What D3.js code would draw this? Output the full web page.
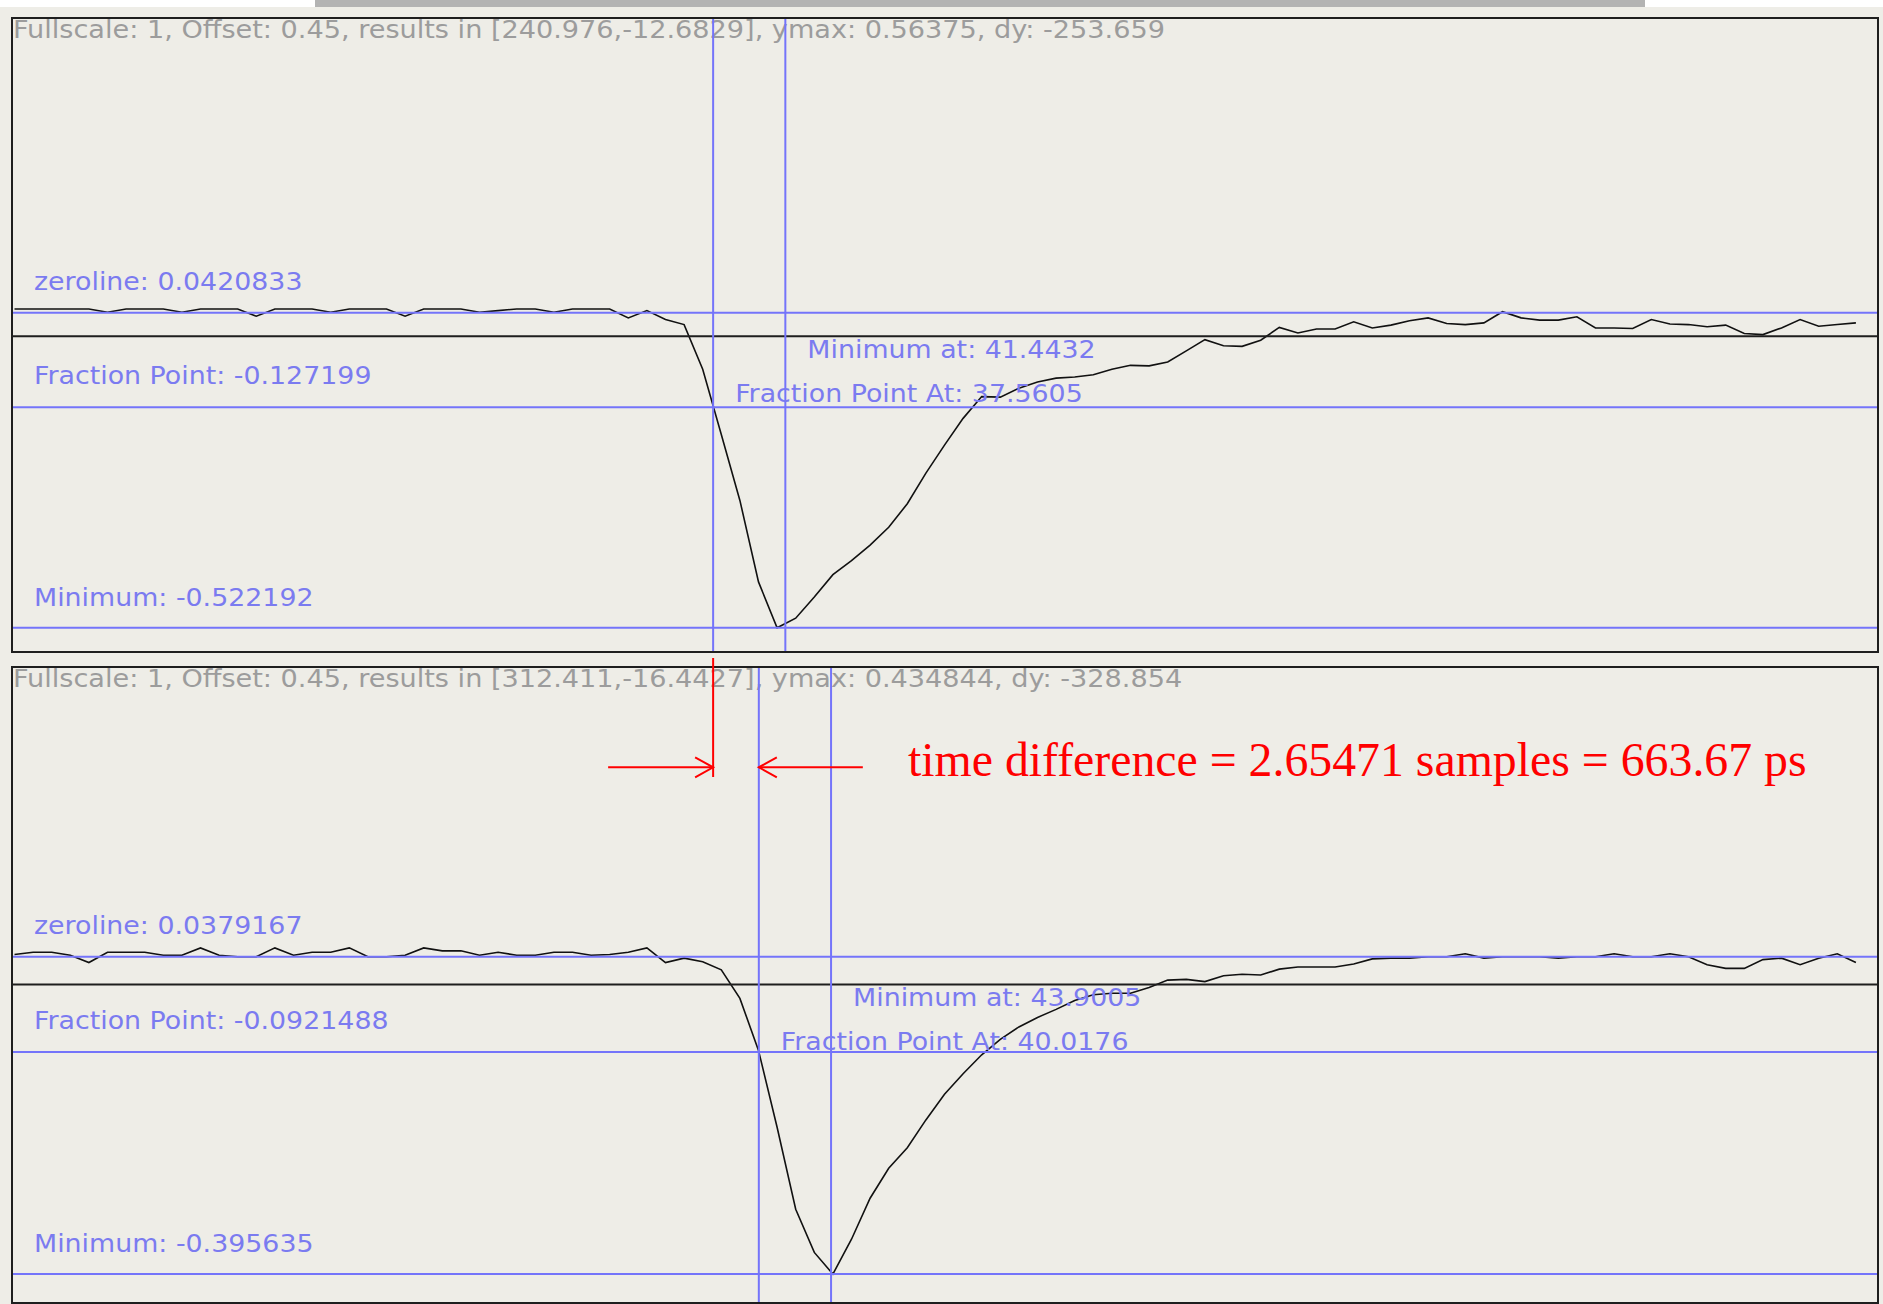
<!DOCTYPE html>
<html>
<head>
<meta charset="utf-8">
<script src="https://cdn.jsdelivr.net/npm/d3@7"></script>
<style>
  body { margin: 0; background: #eeede7; overflow: hidden; }
  svg { display: block; }
</style>
</head>
<body>
<svg id="scope"></svg>
<script>
// samples 0..99 of the two pulses (volts)
const topTrace = [
  0.049, 0.049, 0.049, 0.049, 0.049, 0.043, 0.049, 0.049, 0.049, 0.043,
  0.049, 0.049, 0.049, 0.036, 0.049, 0.049, 0.049, 0.043, 0.049, 0.049,
  0.049, 0.036, 0.049, 0.049, 0.049, 0.043, 0.046, 0.049, 0.049, 0.043,
  0.049, 0.049, 0.049, 0.033, 0.046, 0.030, 0.021, -0.059, -0.176, -0.294,
  -0.440, -0.522192, -0.505, -0.467, -0.427, -0.402, -0.374, -0.342, -0.300, -0.245,
  -0.195, -0.147, -0.108, -0.109, -0.093, -0.082, -0.075, -0.073, -0.069, -0.059,
  -0.052, -0.053, -0.046, -0.026, -0.006, -0.017, -0.018, -0.007, 0.016, 0.006,
  0.013, 0.013, 0.026, 0.015, 0.020, 0.028, 0.033, 0.023, 0.021, 0.024,
  0.044, 0.033, 0.029, 0.029, 0.035, 0.015, 0.015, 0.014, 0.030, 0.022,
  0.021, 0.017, 0.020, 0.005, 0.003, 0.015, 0.030, 0.018, 0.021, 0.024
];
const bottomTrace = [
  0.041, 0.044, 0.044, 0.040, 0.030, 0.044, 0.044, 0.044, 0.040, 0.040,
  0.050, 0.040, 0.0379, 0.0379, 0.050, 0.040, 0.044, 0.044, 0.050, 0.0379,
  0.0379, 0.040, 0.050, 0.046, 0.046, 0.040, 0.044, 0.040, 0.040, 0.044,
  0.044, 0.040, 0.041, 0.044, 0.050, 0.030, 0.036, 0.031, 0.020, -0.019,
  -0.090, -0.195, -0.307, -0.366, -0.395635, -0.348, -0.292, -0.251, -0.223, -0.185,
  -0.150, -0.122, -0.096, -0.075, -0.058, -0.045, -0.034, -0.022, -0.014, -0.012,
  -0.012, -0.004, 0.006, 0.007, 0.004, 0.012, 0.014, 0.013, 0.021, 0.024,
  0.024, 0.024, 0.028, 0.035, 0.036, 0.036, 0.0379, 0.0379, 0.042, 0.036,
  0.0379, 0.0379, 0.0379, 0.036, 0.0379, 0.0379, 0.042, 0.0379, 0.0379, 0.042,
  0.0379, 0.027, 0.022, 0.022, 0.034, 0.036, 0.027, 0.036, 0.042, 0.030
];

const traces = [topTrace, bottomTrace];
const fullscale = [1, 1];
const offset = [0.45, 0.45];
const results = ["[240.976,-12.6829]", "[312.411,-16.4427]"];
const yMax = [0.56375, 0.434844];
const dy = [-253.659, -328.854];
const zeroLine = [0.0420833, 0.0379167];
const fractionPoint = [-0.127199, -0.0921488];
const minimum = [-0.522192, -0.395635];
const fractionAt = [37.5605, 40.0176];
const minimumAt = [41.4432, 43.9005];
const timeDiffSamples = 2.65471;
const timeDiffPs = 663.67;

let width = 1883;
let height = 1304;

// panel frames and the inner plotting band of each one
let panels = [
  {top: 18, bottom: 652, plotTop: 21.6, plotBottom: 651},
  {top: 667, bottom: 1303, plotTop: 666.2, plotBottom: 1302.8}
];
let frame = {left: 12, right: 1878};

let blue = '#7474fa';
let labelBlue = '#7b7bf0';

let svg = d3.select('#scope')
  .attr('width', width)
  .attr('height', height);

svg.append('rect')
  .attr('width', width).attr('height', height)
  .attr('fill', '#eeede7');
svg.append('rect')
  .attr('width', width).attr('height', 7)
  .attr('fill', '#ffffff');
svg.append('rect')
  .attr('x', 315).attr('width', 1330).attr('height', 7)
  .attr('fill', '#b3b3b3');

let xScale = d3.scaleLinear()
  .domain([0, 100])
  .range([14.5, 1874.5]);

function label(g, txt, x, y, color, sx = 1.095) {
  g.append('text')
    .attr('transform', `translate(${x},${y}) scale(${sx},1)`)
    .attr('font-family', 'DejaVu Sans, Verdana, sans-serif')
    .attr('font-size', 24.5)
    .attr('fill', color)
    .text(txt);
}

panels.forEach((p, k) => {
  let yScale = d3.scaleLinear()
    .domain([-yMax[k], yMax[k]])
    .range([p.plotBottom, p.plotTop]);

  let g = svg.append('g');
  g.append('clipPath').attr('id', 'clip' + k)
    .append('rect')
    .attr('x', frame.left).attr('y', p.top)
    .attr('width', frame.right - frame.left)
    .attr('height', p.bottom - p.top);
  let inner = g.append('g').attr('clip-path', `url(#clip${k})`);

  label(inner,
    `Fullscale: ${fullscale[k]}, Offset: ${offset[k]}, results in ${results[k]}, ymax: ${yMax[k]}, dy: ${dy[k]}`,
    frame.left + 1, p.top + 20, '#9c9c9c', 1.107);

  let line = d3.line()
    .x((d, i) => xScale(i))
    .y(d => yScale(d));
  inner.append('path')
    .datum(traces[k])
    .attr('d', line)
    .attr('fill', 'none')
    .attr('stroke', '#111')
    .attr('stroke-width', 1.6);

  // zero of the trace
  inner.append('line')
    .attr('x1', frame.left).attr('x2', frame.right)
    .attr('y1', yScale(0)).attr('y2', yScale(0))
    .attr('stroke', '#1e1e1e').attr('stroke-width', 2);

  [zeroLine[k], fractionPoint[k], minimum[k]].forEach(v => {
    inner.append('line')
      .attr('x1', frame.left).attr('x2', frame.right)
      .attr('y1', yScale(v)).attr('y2', yScale(v))
      .attr('stroke', blue).attr('stroke-width', 2);
  });
  [fractionAt[k], minimumAt[k]].forEach(v => {
    inner.append('line')
      .attr('x1', xScale(v)).attr('x2', xScale(v))
      .attr('y1', p.top).attr('y2', p.bottom)
      .attr('stroke', blue).attr('stroke-width', 2);
  });

  label(inner, `zeroline: ${zeroLine[k]}`, 34, yScale(zeroLine[k]) - 23, labelBlue);
  label(inner, `Fraction Point: ${fractionPoint[k]}`, 34, yScale(fractionPoint[k]) - 23, labelBlue);
  label(inner, `Minimum: ${minimum[k]}`, 34, yScale(minimum[k]) - 22, labelBlue);
  label(inner, `Minimum at: ${minimumAt[k]}`, xScale(minimumAt[k]) + 22, yScale(0) + 21.5, labelBlue);
  label(inner, `Fraction Point At: ${fractionAt[k]}`, xScale(fractionAt[k]) + 22, yScale(0) + 65.5, labelBlue);

  g.append('rect')
    .attr('x', frame.left).attr('y', p.top)
    .attr('width', frame.right - frame.left)
    .attr('height', p.bottom - p.top)
    .attr('fill', 'none')
    .attr('stroke', '#1e1e1e').attr('stroke-width', 2);
});

// time difference annotation between the two fraction points
let red = '#ff0000';
let xa = xScale(fractionAt[0]);
let xb = xScale(fractionAt[1]);
let ay = 767.3;
let ann = svg.append('g')
  .attr('fill', 'none')
  .attr('stroke', red)
  .attr('stroke-width', 2);
ann.append('line')
  .attr('x1', xa).attr('x2', xa)
  .attr('y1', 658).attr('y2', 777);
ann.append('line')
  .attr('x1', xa - 105).attr('x2', xa)
  .attr('y1', ay).attr('y2', ay);
ann.append('path')
  .attr('d', `M${xa - 18},${ay - 10}L${xa},${ay}L${xa - 18},${ay + 10}`);
ann.append('line')
  .attr('x1', xb).attr('x2', xb + 104)
  .attr('y1', ay).attr('y2', ay);
ann.append('path')
  .attr('d', `M${xb + 18},${ay - 10}L${xb},${ay}L${xb + 18},${ay + 10}`);

svg.append('text')
  .attr('x', 908).attr('y', 776)
  .attr('font-family', 'Liberation Serif, Times New Roman, serif')
  .attr('font-size', 47.8)
  .attr('fill', red)
  .text(`time difference = ${timeDiffSamples} samples = ${timeDiffPs} ps`);
</script>
</body>
</html>
